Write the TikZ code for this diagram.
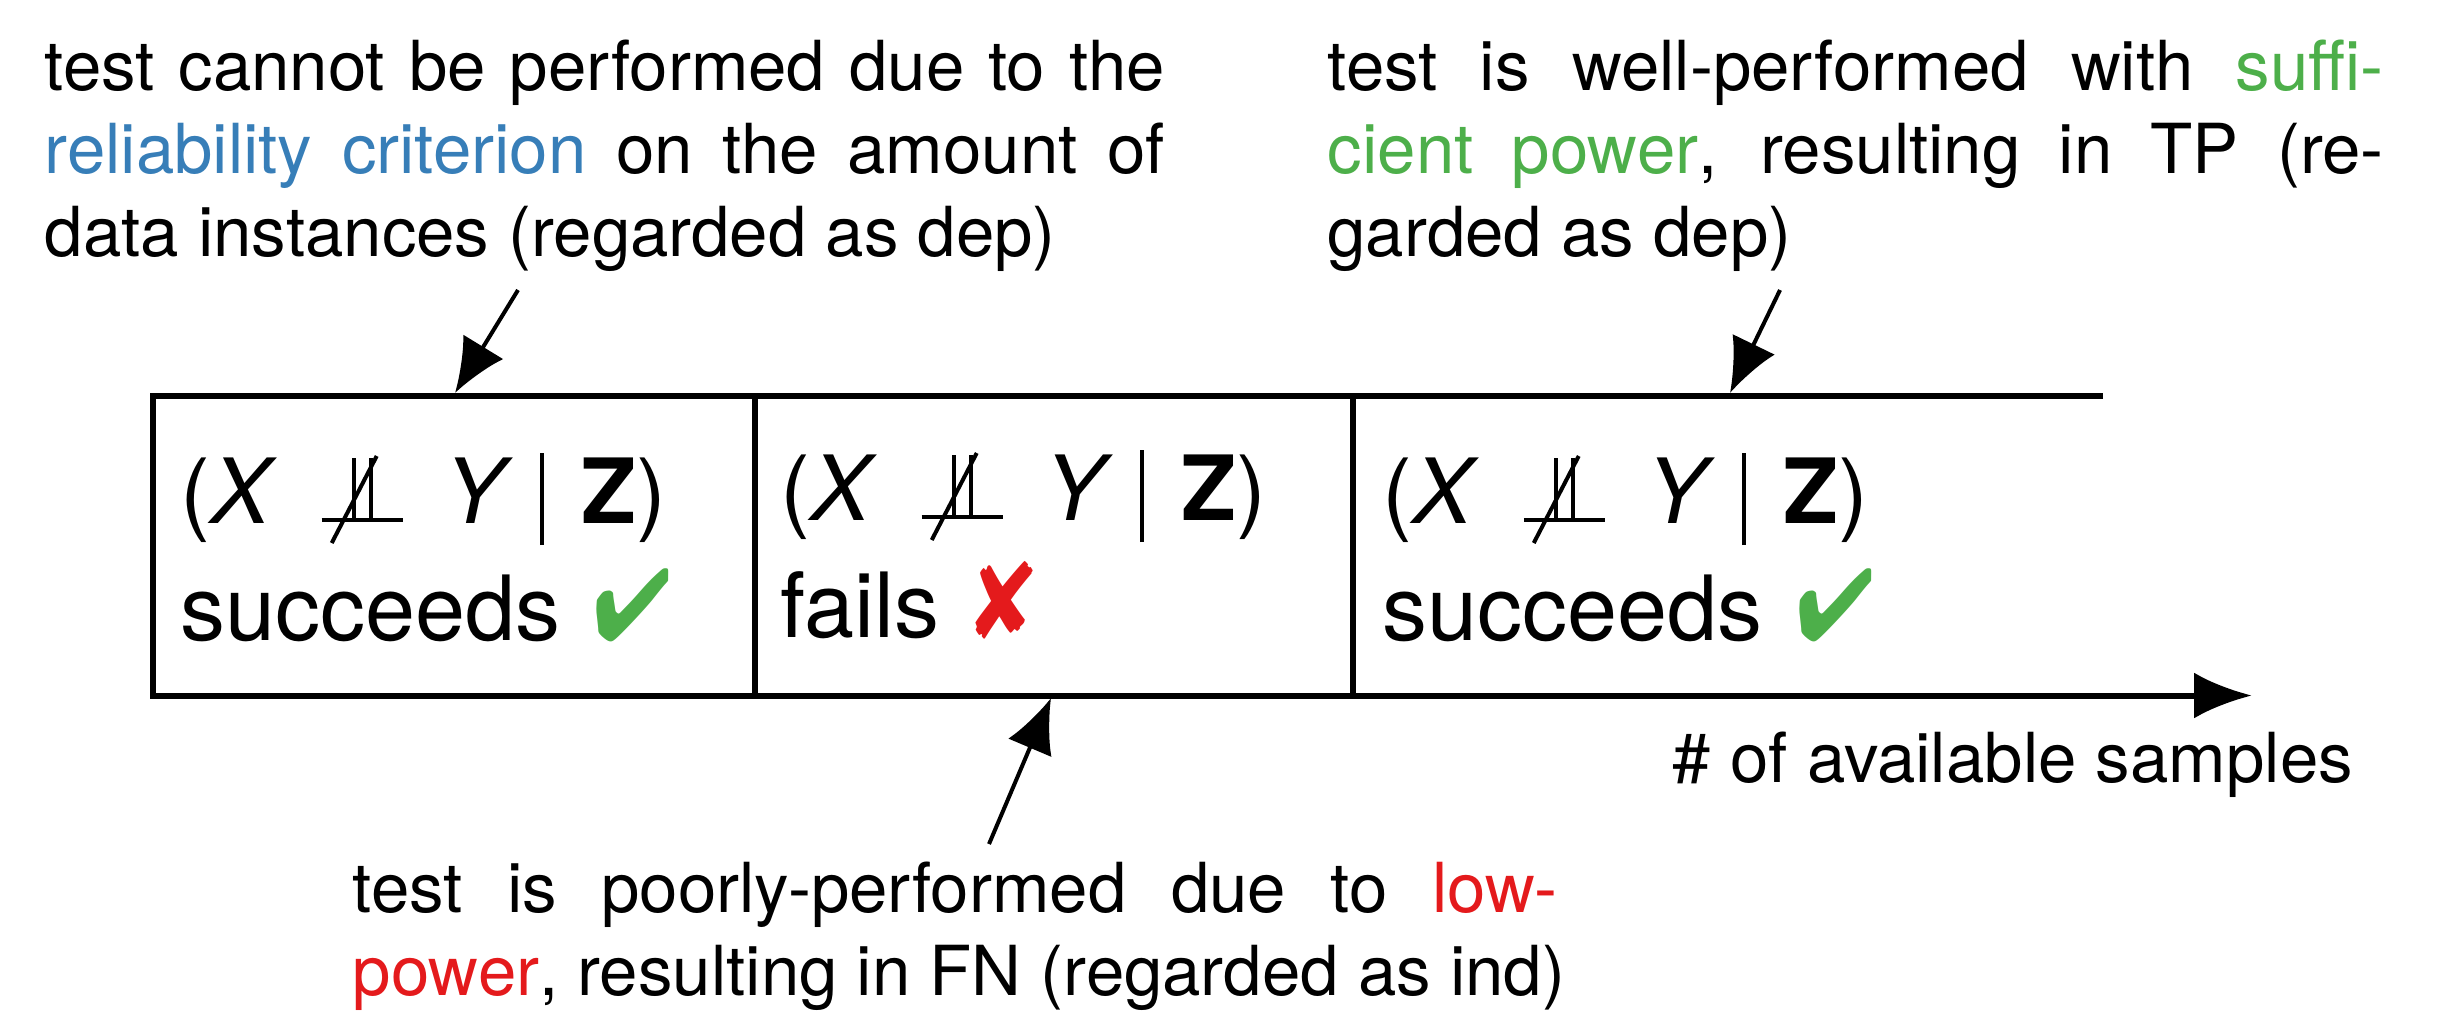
\documentclass[tikz,border=0pt]{standalone}
\usepackage{fontspec}
\setmainfont{TeX Gyre Heros}
\usepackage{pifont}
\usetikzlibrary{arrows.meta}
\definecolor{setblue}{HTML}{377EB8}
\definecolor{setgreen}{HTML}{4DAF4A}
\definecolor{setred}{HTML}{E41A1C}
\newlength\px
\setlength\px{0.25pt}
\newcommand\annfont{\fontsize{17.25pt}{20.75pt}\selectfont}
\newcommand\bxfont{\fontsize{22.5pt}{29.25pt}\selectfont}
\newcommand\nindepsym{\tikz[baseline=0pt,x=0.25pt,y=0.25pt,line width=1pt,line cap=butt]{%
  \useasboundingbox (0,0) rectangle (81,65);
  \draw (0,3) -- (81,3);
  \draw (32,3) -- (32,65);
  \draw (49,3) -- (49,65);
  \draw (10,-20) -- (55,67);}}
\newcommand\indexpr{(\textit{X}\hspace{44\px}\nindepsym\hspace{42\px}\textit{Y}\hspace{26\px}\rule[-22\px]{4\px}{92\px}\hspace{38\px}\textbf{Z})}
\newcommand\okmark{\hspace{8\px}\textcolor{setgreen}{\scalebox{1.03}[1.13]{\ding{52}}}}
\newcommand\failmark{\hspace{8\px}\textcolor{setred}{\scalebox{1.05}[1.2]{\ding{56}}}}
\begin{document}
\begin{tikzpicture}[x=0.25pt,y=-0.25pt,
  boxline/.style={line width=1.5pt},
  pointer/.style={line width=1pt,-{Latex[length=13.5pt,width=11.75pt]}},
  ann/.style={inner sep=0pt,anchor=base west,font=\annfont},
  bx/.style={inner sep=0pt,anchor=base west,font=\bxfont}]
\useasboundingbox (0,0) rectangle (2459,1018);
% timeline boxes
\draw[boxline,-{Latex[length=14.5pt,width=11.5pt]}] (2103,395.5) -- (153,395.5) -- (153,695.5) -- (2252,695.5);
\draw[boxline] (755,395.5) -- (755,695.5);
\draw[boxline] (1353,395.5) -- (1353,695.5);
% box contents
\node[bx] (e1) at (180,523) {\parbox[t]{560\px}{\indexpr\\succeeds \okmark}};
\node[bx] (e2) at (780,520) {\parbox[t]{560\px}{\indexpr\\fails \failmark}};
\node[bx] (e3) at (1382,523) {\parbox[t]{560\px}{\indexpr\\succeeds \okmark}};
% annotations
\node[ann] (tl) at (44,90) {\parbox[t]{1120\px}{\makebox[1120\px][s]{test cannot be performed due to the}\\\makebox[1120\px][s]{\textcolor{setblue}{reliability criterion} on the amount of}\\\mbox{data instances (regarded as dep)}}};
\node[ann] (tr) at (1327,90) {\parbox[t]{1056\px}{\makebox[1056\px][s]{test is well-performed with \textcolor{setgreen}{suffi-}}\\\makebox[1056\px][s]{\textcolor{setgreen}{cient power}, resulting in TP (re-}\\\mbox{garded as dep)}}};
\node[ann] (bt) at (352,912) {\parbox[t]{1205\px}{\makebox[1205\px][s]{test is poorly-performed due to \textcolor{setred}{low-}}\\\mbox{\textcolor{setred}{power}, resulting in FN (regarded as ind)}}};
\node[ann] (ax) at (1672,782) {\# of available samples};
% pointers
\coordinate (p1s) at (518,290);
\coordinate (p1e) at (455,393);
\coordinate (p2s) at (989,844);
\coordinate (p2e) at (1051,698);
\coordinate (p3s) at (1780,290);
\coordinate (p3e) at (1730,393);
\draw[pointer] (p1s) -- (p1e);
\draw[pointer] (p2s) -- (p2e);
\draw[pointer] (p3s) -- (p3e);
\end{tikzpicture}
\end{document}
